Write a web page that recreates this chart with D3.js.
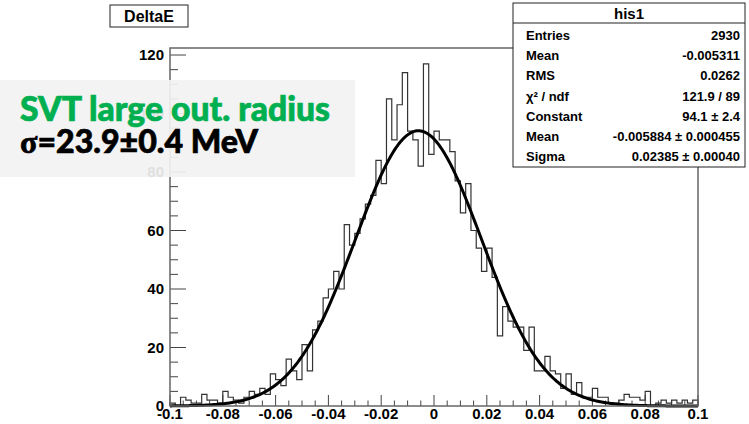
<!DOCTYPE html>
<html>
<head>
<meta charset="utf-8">
<script src="https://cdn.jsdelivr.net/npm/d3@7"></script>
<style>
  body { margin: 0; background: #fff; }
  svg { display: block; }
</style>
</head>
<body>
<div id="chart"></div>
<script>
// histogram DeltaE: 100 bins from -0.1 to 0.1
var xRange = [-0.1, 0.1];
var counts = [
  1, 0, 3, 2, 1, 1, 4, 2, 2, 1,
  5, 3, 2, 1, 3, 5, 4, 6, 4, 11,
  9, 7, 16, 12, 9, 21, 12, 26, 29, 37,
  40, 46, 40, 62, 55, 59, 64, 69, 72, 84,
  76, 105, 91, 103, 114, 94, 91, 82, 117, 86,
  94, 91, 91, 87, 77, 66, 76, 60, 54, 46,
  54, 44, 24, 34, 29, 27, 27, 19, 27, 12,
  12, 17, 12, 11, 6, 11, 4, 8, 3, 3,
  6, 3, 3, 1, 1, 2, 4, 3, 3, 2,
  5, 0, 1, 2, 1, 2, 1, 2, 1, 2
];
// gaussian fit parameters: constant, mean, sigma
var fitParams = [94.1, -0.005884, 0.02385];

var xTicks = [-0.1, -0.08, -0.06, -0.04, -0.02, 0, 0.02, 0.04, 0.06, 0.08, 0.1];
var xTickLabels = ["-0.1", "-0.08", "-0.06", "-0.04", "-0.02", "0", "0.02", "0.04", "0.06", "0.08", "0.1"];
var yTicks = [0, 20, 40, 60, 80, 100, 120];

var statLabels = ["Entries", "Mean", "RMS", "\u03c7\u00b2 / ndf", "Constant", "Mean", "Sigma"];
var statValues = ["2930", "-0.005311", "0.0262", "121.9 / 89", "94.1 \u00b1 2.4", "-0.005884 \u00b1 0.000455", "0.02385 \u00b1 0.00040"];

function init() {
    var w = 749, h = 424;
    var left = 170, right = 698, top = 48, bottom = 406;
    var font = "'Liberation Sans', Arial, sans-serif";

    var svg = d3.select("#chart")
                .append("svg")
                .attr("width", w)
                .attr("height", h);

    svg.append("rect").attr("width", w).attr("height", h).attr("fill", "#fff");

    var x = d3.scaleLinear().domain(xRange).range([left, right]);
    var y = d3.scaleLinear().domain([0, 122.4]).range([bottom, top]);

    // minor + major ticks, ROOT style (inside the frame)
    var xMinor = d3.range(-0.1, 0.1001, 0.005);
    svg.append("g").selectAll("line")
        .data(xMinor)
        .enter().append("line")
        .attr("x1", function(d) { return x(d); })
        .attr("x2", function(d) { return x(d); })
        .attr("y1", bottom)
        .attr("y2", function(d, i) { return bottom - (i % 4 == 0 ? 11 : 5.5); })
        .attr("stroke", "#444").attr("stroke-width", 1);

    var yMinor = d3.range(0, 121, 5);
    svg.append("g").selectAll("line")
        .data(yMinor)
        .enter().append("line")
        .attr("x1", left)
        .attr("x2", function(d, i) { return left + (i % 4 == 0 ? 16 : 8); })
        .attr("y1", function(d) { return y(d); })
        .attr("y2", function(d) { return y(d); })
        .attr("stroke", "#444").attr("stroke-width", 1);

    // histogram outline
    var edges = d3.range(counts.length + 1).map(function(i) {
        return xRange[0] + i * (xRange[1] - xRange[0]) / counts.length;
    });
    var pts = [[edges[0], 0]];
    counts.forEach(function(c, i) { pts.push([edges[i], c]); });
    pts.push([edges[counts.length], counts[counts.length - 1]]);
    pts.push([edges[counts.length], 0]);

    var step = d3.line()
        .x(function(d) { return x(d[0]); })
        .y(function(d) { return y(d[1]); })
        .curve(d3.curveStepAfter);

    svg.append("path")
        .attr("d", step(pts))
        .attr("fill", "none")
        .attr("stroke", "#333")
        .attr("stroke-width", 1.2);

    // fit curve
    var gaus = function(v) {
        var t = (v - fitParams[1]) / fitParams[2];
        return fitParams[0] * Math.exp(-0.5 * t * t);
    };
    var fx = d3.range(0, 401).map(function(i) { return xRange[0] + i * 0.0005; });
    var curve = d3.line()
        .x(function(d) { return x(d); })
        .y(function(d) { return y(gaus(d)); });
    svg.append("path")
        .attr("d", curve(fx))
        .attr("fill", "none")
        .attr("stroke", "#000")
        .attr("stroke-width", 3);

    // frame
    svg.append("rect")
        .attr("x", left).attr("y", top)
        .attr("width", right - left).attr("height", bottom - top)
        .attr("fill", "none")
        .attr("stroke", "#666")
        .attr("stroke-width", 1.5);

    // tick labels
    svg.append("g").selectAll("text")
        .data(xTicks)
        .enter().append("text")
        .attr("x", function(d) { return x(d); })
        .attr("y", 419)
        .attr("text-anchor", "middle")
        .attr("font-family", font)
        .attr("font-weight", "bold")
        .attr("font-size", 15)
        .text(function(d, i) { return xTickLabels[i]; });

    svg.append("g").selectAll("text")
        .data(yTicks)
        .enter().append("text")
        .attr("x", 164)
        .attr("y", function(d) { return y(d) + 5; })
        .attr("text-anchor", "end")
        .attr("font-family", font)
        .attr("font-weight", "bold")
        .attr("font-size", 15)
        .text(function(d) { return d; });

    // title box
    svg.append("rect")
        .attr("x", 110).attr("y", 5).attr("width", 78).attr("height", 22)
        .attr("fill", "#fff").attr("stroke", "#222").attr("stroke-width", 1);
    svg.append("text")
        .attr("x", 149).attr("y", 21.5)
        .attr("text-anchor", "middle")
        .attr("font-family", font).attr("font-weight", "bold").attr("font-size", 16)
        .text("DeltaE");

    // stats box
    var sx = 513, sy = 3, sw = 232, sh = 164;
    svg.append("rect")
        .attr("x", sx).attr("y", sy).attr("width", sw).attr("height", sh)
        .attr("fill", "#fff").attr("stroke", "#222").attr("stroke-width", 1);
    svg.append("line")
        .attr("x1", sx).attr("x2", sx + sw).attr("y1", 23).attr("y2", 23)
        .attr("stroke", "#222");
    svg.append("text")
        .attr("x", sx + sw / 2).attr("y", 19)
        .attr("text-anchor", "middle")
        .attr("font-family", font).attr("font-weight", "bold").attr("font-size", 15)
        .text("his1");

    var rows = svg.append("g").selectAll("g")
        .data(statLabels)
        .enter().append("g")
        .attr("transform", function(d, i) { return "translate(0," + (40 + i * 20.2) + ")"; });
    rows.append("text")
        .attr("x", 526)
        .attr("font-family", font).attr("font-weight", "bold").attr("font-size", 13)
        .text(function(d) { return d; });
    rows.append("text")
        .attr("x", 740)
        .attr("text-anchor", "end")
        .attr("font-family", font).attr("font-weight", "bold").attr("font-size", 13)
        .text(function(d, i) { return statValues[i]; });

    // annotation
    svg.append("rect")
        .attr("x", 0).attr("y", 80).attr("width", 355).attr("height", 97)
        .attr("fill", "#f2f2f2").attr("fill-opacity", 0.92);

    var t1 = svg.append("text")
        .attr("x", 20).attr("y", 121)
        .attr("font-family", "Lato, 'Open Sans', sans-serif")
        .attr("font-weight", "900").attr("font-size", 28)
        .attr("fill", "#00b050")
        .attr("stroke", "#00b050").attr("stroke-width", 0.7)
        .text("SVT large out. radius");
    var l1 = t1.node().getComputedTextLength();
    t1.attr("font-size", 28 * 310 / l1);

    var t2 = svg.append("text")
        .attr("x", 20).attr("y", 153)
        .attr("font-family", "Lato, 'Open Sans', sans-serif")
        .attr("font-weight", "900").attr("font-size", 26)
        .attr("fill", "#000")
        .attr("stroke", "#000").attr("stroke-width", 0.7);
    t2.append("tspan").attr("font-family", "'Liberation Serif', serif").text("\u03c3");
    t2.append("tspan").text("=23.9\u00b10.4 MeV");
    var l2 = t2.node().getComputedTextLength();
    t2.attr("font-size", 26 * 238 / l2);
}
window.onload = init;
</script>
</body>
</html>
